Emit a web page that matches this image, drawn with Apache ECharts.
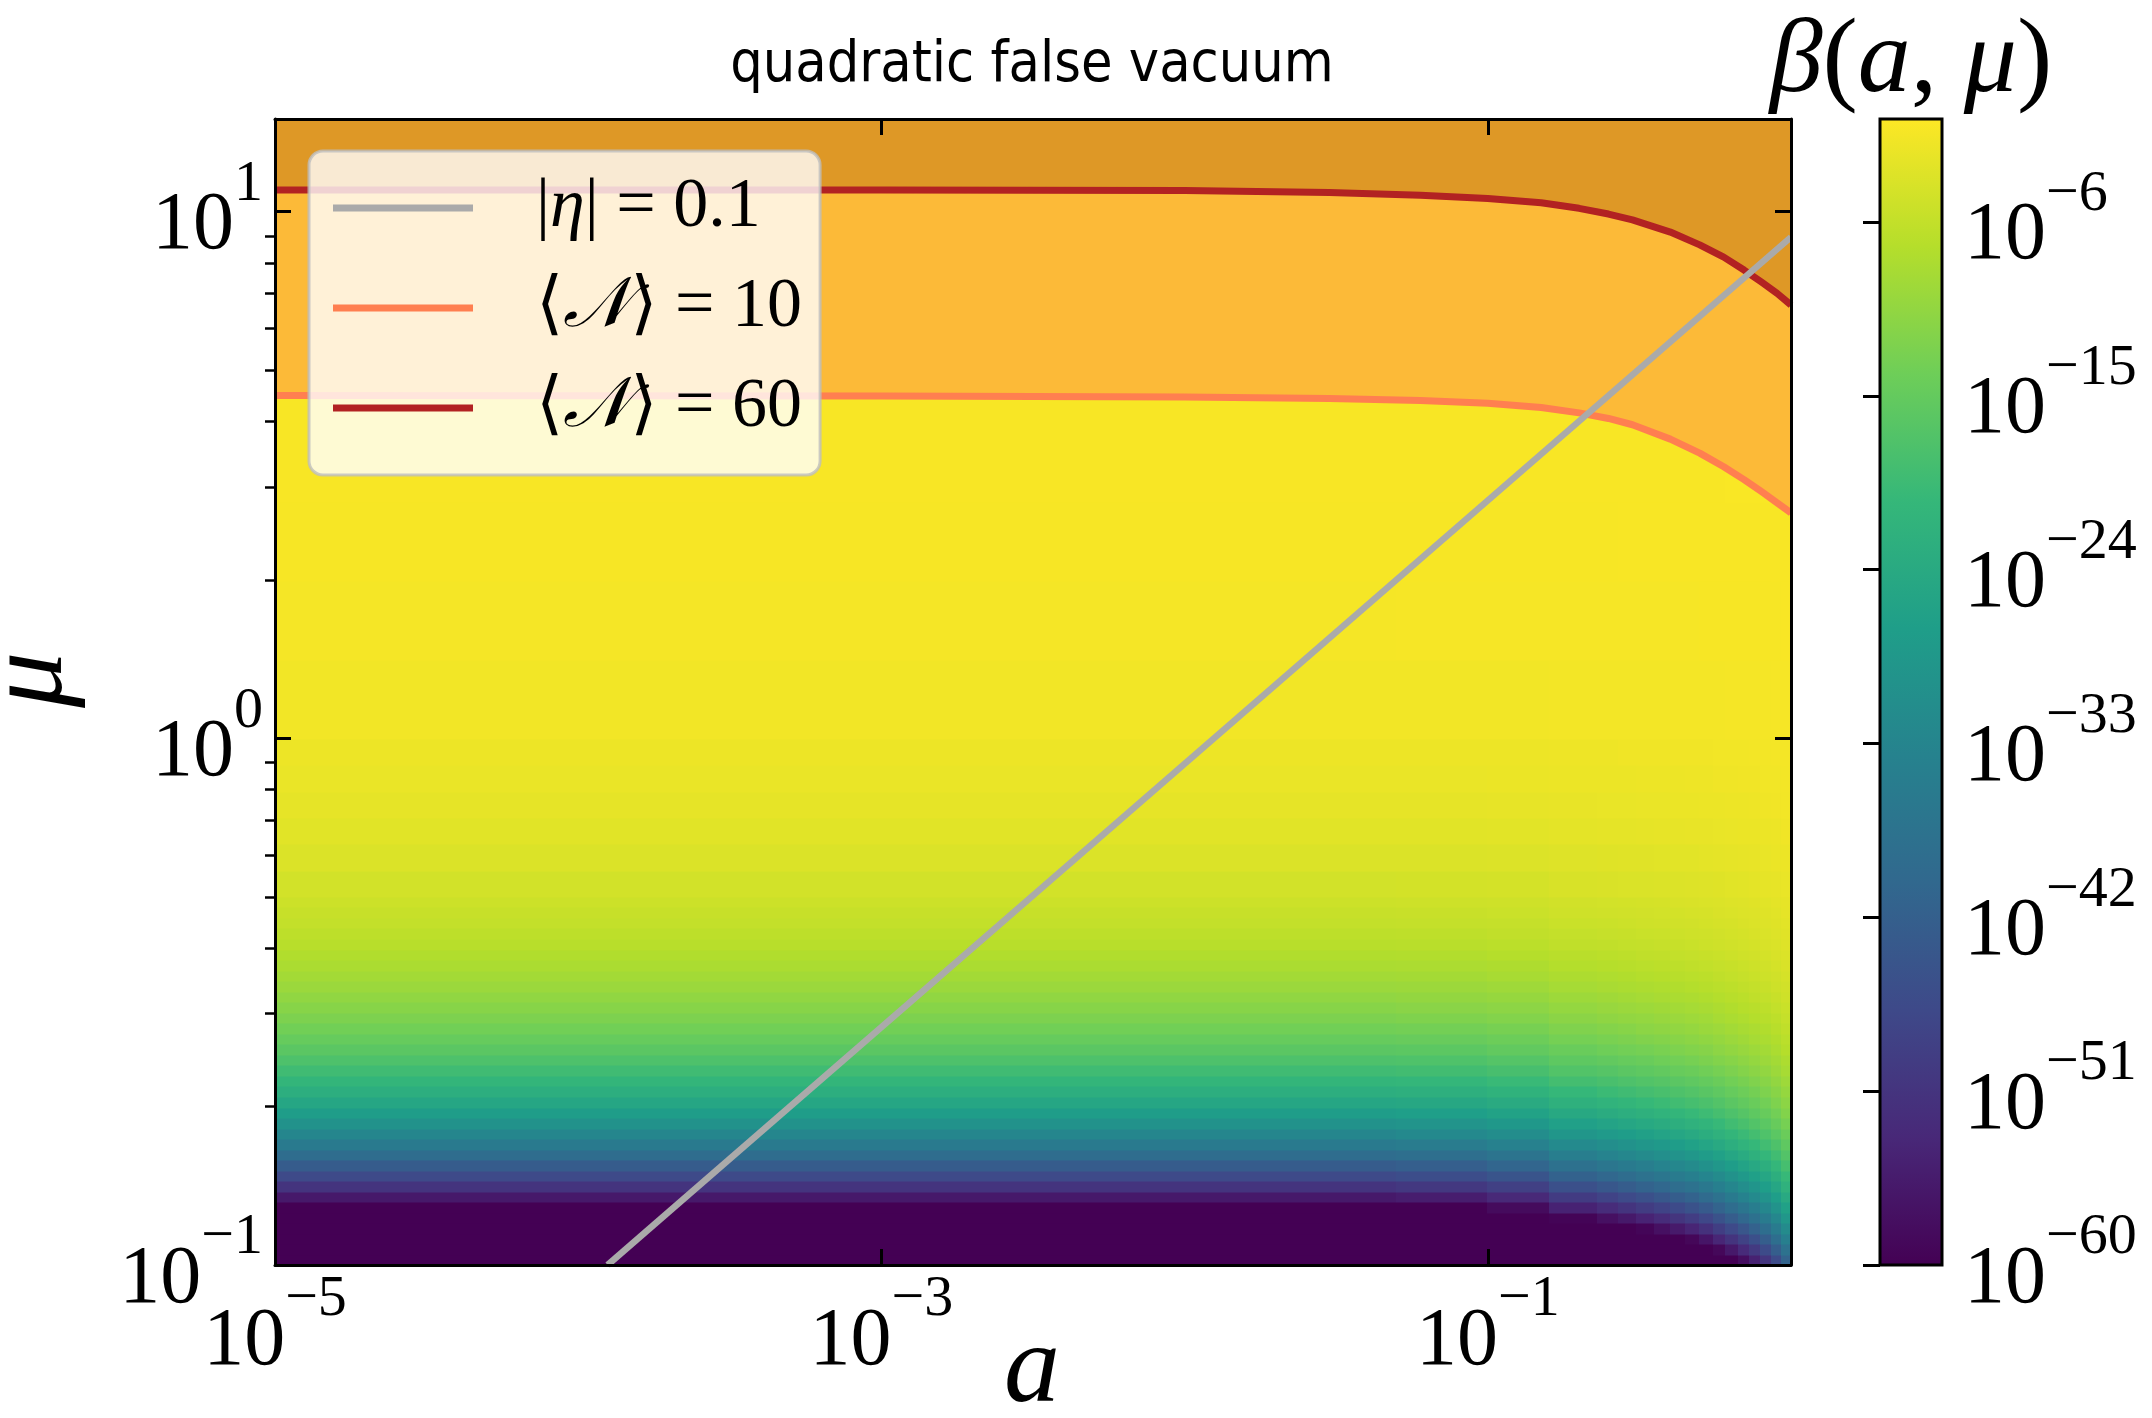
<!DOCTYPE html>
<html><head><meta charset="utf-8">
<script src="https://cdn.jsdelivr.net/npm/echarts@6/dist/echarts.min.js"></script>
<style>html,body{margin:0;padding:0;background:#fff}#c{width:2152px;height:1418px}</style>
</head><body><div id="c"></div>
<script>
// ---------------- data ----------------
const aEdges = [1e-5, 0.05, 0.1, 0.16, 0.23, 0.27, 0.31, 0.355, 0.4, 0.45, 0.5, 0.555, 0.61, 0.67, 0.73, 0.795, 0.86, 0.93, 1.0];
const muEdgeExp = [-1.00,-0.98,-0.96,-0.94,-0.92,-0.90,-0.88,-0.86,-0.84,-0.82,-0.80,-0.78,-0.76,-0.74,-0.72,-0.70,-0.68,-0.66,-0.64,-0.62,-0.60,-0.58,-0.56,-0.54,-0.52,-0.50,-0.48,-0.46,-0.44,-0.42,-0.40,-0.38,-0.36,-0.34,-0.32,-0.30,-0.25,-0.20,-0.15,-0.10,-0.05,0.00,0.15,0.30,0.45,0.65,1.1761];
const logBetaCol0 = [-60,-60,-60,-60,-60,-60,-56.0,-51.1,-46.7,-42.7,-39.0,-35.7,-32.6,-29.8,-27.3,-25.0,-22.9,-21.0,-19.2,-17.6,-16.1,-14.8,-13.6,-12.5,-11.5,-10.6,-9.7,-8.9,-8.2,-7.6,-7.0,-6.5,-6.0,-5.6,-5.2,-4.6,-3.8,-3.2,-2.8,-2.4,-2.1,-1.7,-1.4,-1.2,-1.1,-1.0];
const logBetaCol1 = [-60,-60,-60,-60,-60,-60,-55.2,-50.3,-46.0,-42.1,-38.4,-35.2,-32.1,-29.4,-26.9,-24.6,-22.6,-20.7,-18.9,-17.4,-15.9,-14.6,-13.4,-12.3,-11.3,-10.4,-9.6,-8.8,-8.1,-7.5,-6.9,-6.4,-5.9,-5.5,-5.1,-4.5,-3.8,-3.2,-2.8,-2.4,-2.1,-1.7,-1.3,-1.2,-1.1,-1.0];
const logBetaCol2 = [-60,-60,-60,-60,-60,-58.3,-53.3,-48.6,-44.4,-40.6,-37.1,-34.0,-31.0,-28.4,-26.0,-23.8,-21.8,-20.0,-18.3,-16.8,-15.3,-14.1,-13.0,-11.9,-11.0,-10.1,-9.3,-8.5,-7.9,-7.3,-6.7,-6.2,-5.8,-5.3,-5.0,-4.4,-3.7,-3.1,-2.7,-2.3,-2.1,-1.7,-1.3,-1.2,-1.1,-1.0];
const logBetaCol3 = [-60,-60,-60,-60,-59.5,-54.4,-49.7,-45.3,-41.4,-37.9,-34.6,-31.7,-29.0,-26.5,-24.3,-22.2,-20.4,-18.7,-17.1,-15.7,-14.4,-13.2,-12.2,-11.2,-10.3,-9.5,-8.7,-8.0,-7.4,-6.9,-6.3,-5.9,-5.4,-5.0,-4.7,-4.1,-3.5,-3.0,-2.6,-2.2,-2.0,-1.6,-1.3,-1.2,-1.1,-1.0];
const logBetaCol4 = [-60,-60,-60,-60,-57.5,-52.6,-48.0,-43.8,-40.1,-36.7,-33.5,-30.7,-28.0,-25.6,-23.5,-21.5,-19.7,-18.1,-16.6,-15.2,-13.9,-12.8,-11.8,-10.8,-10.0,-9.2,-8.4,-7.8,-7.2,-6.7,-6.2,-5.7,-5.3,-4.9,-4.6,-4.0,-3.4,-2.9,-2.5,-2.2,-2.0,-1.6,-1.3,-1.2,-1.1,-1.0];
const logBetaCol5 = [-60,-60,-60,-60,-55.9,-51.0,-46.7,-42.6,-38.9,-35.6,-32.5,-29.8,-27.2,-24.9,-22.8,-20.9,-19.2,-17.6,-16.1,-14.8,-13.5,-12.5,-11.5,-10.5,-9.7,-8.9,-8.2,-7.6,-7.0,-6.5,-6.0,-5.6,-5.2,-4.8,-4.5,-3.9,-3.3,-2.9,-2.5,-2.2,-1.9,-1.6,-1.3,-1.1,-1.1,-1.0];
const logBetaCol6 = [-60,-60,-60,-59.3,-54.2,-49.5,-45.3,-41.3,-37.8,-34.6,-31.6,-28.9,-26.4,-24.2,-22.2,-20.3,-18.6,-17.1,-15.7,-14.4,-13.2,-12.1,-11.1,-10.3,-9.5,-8.7,-8.0,-7.4,-6.8,-6.3,-5.9,-5.4,-5.0,-4.7,-4.4,-3.9,-3.3,-2.8,-2.4,-2.1,-1.9,-1.6,-1.3,-1.1,-1.1,-1.0];
const logBetaCol7 = [-60,-60,-60,-57.5,-52.6,-48.0,-43.9,-40.1,-36.6,-33.5,-30.6,-28.1,-25.6,-23.5,-21.5,-19.7,-18.1,-16.6,-15.2,-13.9,-12.8,-11.8,-10.8,-10.0,-9.2,-8.4,-7.8,-7.2,-6.6,-6.2,-5.7,-5.3,-4.9,-4.6,-4.3,-3.8,-3.2,-2.7,-2.4,-2.1,-1.9,-1.6,-1.3,-1.1,-1.1,-1.0];
const logBetaCol8 = [-60,-60,-60,-55.7,-50.9,-46.5,-42.5,-38.8,-35.5,-32.5,-29.7,-27.2,-24.9,-22.7,-20.9,-19.1,-17.5,-16.1,-14.7,-13.5,-12.4,-11.4,-10.5,-9.7,-8.9,-8.2,-7.6,-7.0,-6.5,-6.0,-5.6,-5.2,-4.8,-4.5,-4.1,-3.7,-3.1,-2.7,-2.3,-2.1,-1.8,-1.5,-1.3,-1.1,-1.1,-1.0];
const logBetaCol9 = [-60,-60,-59.0,-53.9,-49.3,-45.0,-41.2,-37.6,-34.4,-31.4,-28.7,-26.3,-24.1,-22.0,-20.2,-18.5,-17.0,-15.6,-14.3,-13.1,-12.0,-11.1,-10.2,-9.4,-8.7,-8.0,-7.4,-6.8,-6.3,-5.8,-5.4,-5.0,-4.7,-4.3,-4.0,-3.6,-3.1,-2.6,-2.3,-2.0,-1.8,-1.5,-1.3,-1.1,-1.1,-1.0];
const logBetaCol10 = [-60,-60,-56.6,-51.7,-47.3,-43.2,-39.5,-36.1,-33.0,-30.2,-27.6,-25.3,-23.1,-21.2,-19.4,-17.8,-16.3,-15.0,-13.7,-12.6,-11.6,-10.7,-9.8,-9.1,-8.4,-7.7,-7.1,-6.6,-6.1,-5.6,-5.2,-4.9,-4.5,-4.2,-3.9,-3.5,-3.0,-2.6,-2.2,-2.0,-1.8,-1.5,-1.2,-1.1,-1.1,-1.0];
const logBetaCol11 = [-60,-58.9,-53.8,-49.1,-45.0,-41.1,-37.6,-34.3,-31.4,-28.7,-26.3,-24.1,-22.0,-20.2,-18.5,-17.0,-15.6,-14.3,-13.1,-12.0,-11.0,-10.2,-9.4,-8.6,-8.0,-7.4,-6.8,-6.3,-5.8,-5.4,-5.0,-4.7,-4.3,-4.0,-3.8,-3.4,-2.9,-2.5,-2.2,-1.9,-1.7,-1.5,-1.2,-1.1,-1.1,-1.0];
const logBetaCol12 = [-60,-55.9,-51.0,-46.6,-42.6,-39.0,-35.7,-32.6,-29.8,-27.3,-24.9,-22.9,-20.9,-19.1,-17.6,-16.1,-14.8,-13.6,-12.5,-11.5,-10.5,-9.7,-8.9,-8.2,-7.6,-7.0,-6.5,-6.0,-5.6,-5.2,-4.8,-4.5,-4.2,-3.9,-3.6,-3.2,-2.8,-2.4,-2.1,-1.9,-1.7,-1.4,-1.2,-1.1,-1.0,-1.0];
const logBetaCol13 = [-57.8,-52.8,-48.2,-44.1,-40.3,-36.9,-33.7,-30.8,-28.2,-25.8,-23.6,-21.6,-19.8,-18.1,-16.6,-15.3,-14.0,-12.9,-11.8,-10.9,-10.0,-9.2,-8.5,-7.8,-7.2,-6.7,-6.2,-5.7,-5.3,-4.9,-4.6,-4.3,-4.0,-3.7,-3.5,-3.1,-2.7,-2.3,-2.1,-1.8,-1.7,-1.4,-1.2,-1.1,-1.0,-1.0];
const logBetaCol14 = [-54.5,-49.8,-45.5,-41.5,-38.0,-34.8,-31.8,-29.1,-26.6,-24.4,-22.3,-20.4,-18.7,-17.1,-15.7,-14.4,-13.3,-12.2,-11.2,-10.3,-9.5,-8.7,-8.1,-7.4,-6.9,-6.3,-5.9,-5.4,-5.1,-4.7,-4.4,-4.1,-3.8,-3.6,-3.3,-3.0,-2.6,-2.3,-2.0,-1.8,-1.6,-1.4,-1.2,-1.1,-1.0,-1.0];
const logBetaCol15 = [-50.7,-46.3,-42.3,-38.6,-35.4,-32.4,-29.6,-27.1,-24.8,-22.7,-20.8,-19.0,-17.4,-16.0,-14.7,-13.5,-12.4,-11.4,-10.5,-9.6,-8.9,-8.2,-7.6,-7.0,-6.5,-6.0,-5.5,-5.1,-4.8,-4.4,-4.1,-3.9,-3.6,-3.4,-3.2,-2.8,-2.5,-2.2,-1.9,-1.7,-1.6,-1.4,-1.2,-1.1,-1.0,-1.0];
const logBetaCol16 = [-46.4,-42.4,-38.7,-35.4,-32.4,-29.6,-27.1,-24.8,-22.7,-20.8,-19.1,-17.5,-16.0,-14.7,-13.5,-12.4,-11.4,-10.5,-9.6,-8.9,-8.2,-7.6,-7.0,-6.5,-6.0,-5.5,-5.1,-4.8,-4.4,-4.1,-3.9,-3.6,-3.4,-3.2,-3.0,-2.7,-2.3,-2.1,-1.8,-1.7,-1.5,-1.3,-1.2,-1.1,-1.0,-1.0];
const logBetaCol17 = [-41.1,-37.6,-34.3,-31.4,-28.8,-26.3,-24.1,-22.0,-20.2,-18.5,-17.0,-15.6,-14.3,-13.1,-12.0,-11.1,-10.2,-9.4,-8.6,-8.0,-7.3,-6.8,-6.3,-5.8,-5.4,-5.0,-4.7,-4.3,-4.0,-3.8,-3.5,-3.3,-3.1,-2.9,-2.8,-2.5,-2.2,-1.9,-1.7,-1.6,-1.5,-1.3,-1.1,-1.1,-1.0,-1.0];

const n10A  = [1e-5, 1e-3, 0.01, 0.03, 0.06, 0.1, 0.15, 0.2, 0.25, 0.3, 0.4, 0.5, 0.6, 0.7, 0.8, 0.9, 1.0];
const n10Mu = [4.48, 4.47, 4.45, 4.42, 4.38, 4.33, 4.25, 4.15, 4.05, 3.94, 3.70, 3.48, 3.28, 3.10, 2.94, 2.80, 2.68];
const n60A  = [1e-5, 1e-3, 0.01, 0.03, 0.06, 0.1, 0.15, 0.2, 0.25, 0.3, 0.4, 0.5, 0.6, 0.7, 0.8, 0.9, 1.0];
const n60Mu = [11.0, 11.0, 10.97, 10.88, 10.75, 10.6, 10.4, 10.15, 9.9, 9.65, 9.15, 8.65, 8.2, 7.75, 7.35, 7.0, 6.65];
const etaA  = [1.25e-4, 1.0];
const etaMu = [0.1, 8.95];

const xTicks = [1e-5, 1e-3, 1e-1];
const xTopTicks = [1e-3, 1e-1];
const yTicks = [0.1, 1, 10];
const yRightTicks = [1, 10];
const yMinorTicks = [0.2,0.3,0.4,0.5,0.6,0.7,0.8,0.9,2,3,4,5,6,7,8,9];
const cbTicks = [-60, -51, -42, -33, -24, -15, -6];
const cbMin = -60, cbMax = -0.67;

const viridis = ['#440154','#482878','#3e4989','#31688e','#26828e','#1f9e89','#35b779','#6ece58','#b5de2b','#fde725'];

// ---------------- build ----------------
const columns = [logBetaCol0,logBetaCol1,logBetaCol2,logBetaCol3,logBetaCol4,logBetaCol5,logBetaCol6,logBetaCol7,logBetaCol8,
                 logBetaCol9,logBetaCol10,logBetaCol11,logBetaCol12,logBetaCol13,logBetaCol14,logBetaCol15,logBetaCol16,logBetaCol17];
const cells = [];
columns.forEach((col, i) => col.forEach((v, j) => {
  cells.push([aEdges[i], aEdges[i+1], Math.pow(10, muEdgeExp[j]), Math.pow(10, muEdgeExp[j+1]), v]);
}));
const zip = (xs, ys) => xs.map((x, i) => [x, ys[i]]);

const SERIF = "'Liberation Serif', 'DejaVu Serif', serif";
const supMinus = e => (e < 0 ? '\u2212' + (-e) : '' + e);
const tickRich = {
  b: {fontFamily: SERIF, fontSize: 82, color: '#000', lineHeight: 112, verticalAlign: 'bottom'},
  s: {fontFamily: SERIF, fontSize: 58, color: '#000', lineHeight: 60, verticalAlign: 'top'}
};
const logFmt = v => '{b|10}{s|' + supMinus(Math.round(Math.log10(v))) + '}';

const frameLine = {show: true, lineStyle: {color: '#000', width: 3}};
const legendText = {
  eta: '{g| }{t||}{i|η}{t||}{t| = 0.1}',
  n10: '{g| }{t|⟨}{i|𝒩}{t|⟩ = 10}',
  n60: '{g| }{t|⟨}{i|𝒩}{t|⟩ = 60}'
};

const chart = echarts.init(document.getElementById('c'), null, {renderer: 'canvas'});
chart.setOption({
  backgroundColor: '#fff',
  animation: false,
  grid: [
    {left: 275, top: 119, width: 1516, height: 1146},
    {left: 1880, top: 119, width: 62, height: 1146}
  ],
  xAxis: [
    {gridIndex: 0, type: 'log', logBase: 10, min: 1e-5, max: 1, position: 'bottom', z: 10,
     axisLine: frameLine, splitLine: {show: false},
     axisTick: {inside: true, length: 16, lineStyle: {color: '#000', width: 3}, customValues: xTicks},
     axisLabel: {customValues: xTicks, formatter: logFmt, rich: tickRich, margin: 6}},
    {gridIndex: 0, type: 'log', logBase: 10, min: 1e-5, max: 1, position: 'top', z: 10,
     axisLine: frameLine, splitLine: {show: false},
     axisTick: {inside: true, length: 16, lineStyle: {color: '#000', width: 3}, customValues: xTopTicks},
     axisLabel: {show: false}},
    {gridIndex: 1, type: 'value', min: 0, max: 1, show: false}
  ],
  yAxis: [
    {gridIndex: 0, type: 'log', logBase: 10, min: 0.1, max: 15, position: 'left', z: 10,
     axisLine: frameLine, splitLine: {show: false},
     axisTick: {inside: true, length: 16, lineStyle: {color: '#000', width: 3}, customValues: yTicks},
     axisLabel: {customValues: yTicks, formatter: logFmt, rich: tickRich, margin: 12, align: 'right'}},
    {gridIndex: 0, type: 'log', logBase: 10, min: 0.1, max: 15, position: 'right', z: 10,
     axisLine: frameLine, splitLine: {show: false},
     axisTick: {inside: true, length: 16, lineStyle: {color: '#000', width: 3}, customValues: yRightTicks},
     axisLabel: {show: false}},
    {gridIndex: 0, type: 'log', logBase: 10, min: 0.1, max: 15, position: 'left', offset: 0, z: 10,
     axisLine: {show: false}, splitLine: {show: false},
     axisTick: {inside: false, length: 10, lineStyle: {color: '#000', width: 2.5}, customValues: yMinorTicks},
     axisLabel: {show: false}},
    {gridIndex: 1, type: 'value', min: cbMin, max: cbMax, position: 'right', z: 10,
     axisLine: {show: false}, splitLine: {show: false},
     axisTick: {inside: true, length: 17, lineStyle: {color: '#000', width: 3}, customValues: cbTicks},
     axisLabel: {customValues: cbTicks, formatter: v => '{b|10}{s|' + supMinus(v) + '}', rich: tickRich, margin: 22}}
  ],
  visualMap: {type: 'continuous', show: false, seriesIndex: 0, dimension: 4, min: cbMin, max: cbMax,
              inRange: {color: viridis}},
  legend: {
    orient: 'vertical', left: 309, top: 151, selectedMode: false,
    data: [
      {name: 'eta', itemStyle: {color: '#aaaaaa', borderWidth: 0}},
      {name: 'n10', itemStyle: {color: '#ff7f50', borderWidth: 0}},
      {name: 'n60', itemStyle: {color: '#b22222', borderWidth: 0}}
    ],
    icon: 'rect', itemWidth: 140, itemHeight: 7, itemGap: 30,
    padding: [22, 18, 32, 24],
    backgroundColor: 'rgba(255,255,255,0.8)', borderColor: 'rgba(190,190,190,0.8)', borderWidth: 3, borderRadius: 14,
    formatter: name => legendText[name],
    textStyle: {color: '#000', rich: {
      g: {width: 58, fontSize: 70, lineHeight: 76},
      t: {fontFamily: SERIF, fontSize: 70, lineHeight: 76, color: '#000'},
      i: {fontFamily: SERIF, fontStyle: 'italic', fontSize: 70, lineHeight: 76, color: '#000'}
    }}
  },
  graphic: [
    {type: 'text', x: 1032, y: 66, z: 20, style: {text: 'quadratic false vacuum', fontFamily: "'DejaVu Sans Condensed', 'Liberation Sans Narrow', 'DejaVu Sans', sans-serif", fontSize: 57, fill: '#000', align: 'center', verticalAlign: 'middle'}},
    {type: 'text', x: 1911, y: 63, z: 20, style: {text: '{i|β}{t|(}{i|a}{t|, }{i|μ}{t|)}', align: 'center', verticalAlign: 'middle',
      rich: {i: {fontFamily: SERIF, fontStyle: 'italic', fontSize: 106, fill: '#000'}, t: {fontFamily: SERIF, fontSize: 106, fill: '#000'}}}},
    {type: 'text', x: 1032, y: 1372, z: 20, style: {text: 'a', fontFamily: SERIF, fontStyle: 'italic', fontSize: 112, fill: '#000', align: 'center', verticalAlign: 'middle'}},
    {type: 'text', x: 32, y: 680, rotation: Math.PI / 2, z: 20, style: {text: 'μ', fontFamily: SERIF, fontStyle: 'italic', fontSize: 112, fill: '#000', align: 'center', verticalAlign: 'middle'}}
  ],
  series: [
    {type: 'custom', name: 'beta', xAxisIndex: 0, yAxisIndex: 0, z: 1, silent: true, clip: true,
     dimensions: ['a0', 'a1', 'm0', 'm1', 'logBeta'], encode: {x: [0, 1], y: [2, 3]},
     data: cells,
     renderItem: (params, api) => {
       const p0 = api.coord([api.value(0), api.value(2)]);
       const p1 = api.coord([api.value(1), api.value(3)]);
       const x0 = Math.floor(p0[0]), x1 = Math.ceil(p1[0]);
       const y0 = Math.ceil(p0[1]), y1 = Math.floor(p1[1]);
       return {type: 'rect', shape: {x: x0, y: y1, width: x1 - x0 + 0.5, height: y0 - y1 + 0.5},
               style: {fill: api.visual('color')}};
     }},
    {type: 'line', name: 'n10', xAxisIndex: 0, yAxisIndex: 0, z: 2, silent: true,
     data: zip(n10A, n10Mu), symbol: 'none', smooth: false,
     color: '#ff7f50', lineStyle: {color: '#ff7f50', width: 7, join: 'round'},
     areaStyle: {color: '#fcba38', opacity: 1, origin: 'end'}},
    {type: 'line', name: 'n60', xAxisIndex: 0, yAxisIndex: 0, z: 3, silent: true,
     data: zip(n60A, n60Mu), symbol: 'none', smooth: false,
     color: '#b22222', lineStyle: {color: '#b22222', width: 7, join: 'round'},
     areaStyle: {color: '#de9826', opacity: 1, origin: 'end'}},
    {type: 'line', name: 'eta', xAxisIndex: 0, yAxisIndex: 0, z: 4, silent: true,
     data: zip(etaA, etaMu), symbol: 'none', color: '#aaaaaa', lineStyle: {color: '#aaaaaa', width: 6.5}},
    {type: 'custom', name: 'colorbar', xAxisIndex: 2, yAxisIndex: 3, z: 1, silent: true,
     data: [[0, cbMin, 1, cbMax]],
     renderItem: (params, api) => {
       const p0 = api.coord([api.value(0), api.value(1)]);
       const p1 = api.coord([api.value(2), api.value(3)]);
       const x = p0[0], y = p1[1], w = p1[0] - p0[0], h = p0[1] - p1[1];
       const stops = viridis.map((c, i) => ({offset: i / (viridis.length - 1), color: c}));
       return {type: 'group', children: [
         {type: 'rect', shape: {x, y, width: w, height: h}, style: {fill: new echarts.graphic.LinearGradient(0, 1, 0, 0, stops)}},
         {type: 'rect', shape: {x, y, width: w, height: h}, style: {fill: 'none', stroke: '#000', lineWidth: 3}}
       ]};
     }}
  ]
});
</script></body></html>
